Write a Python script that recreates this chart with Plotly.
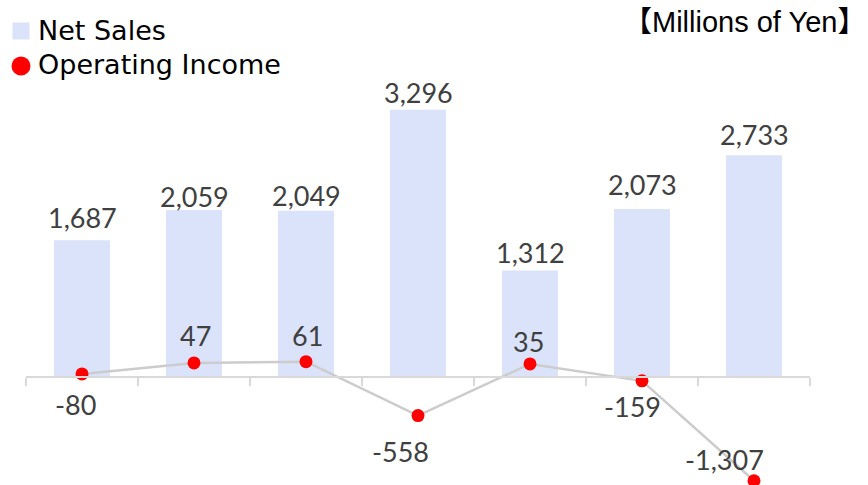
import plotly.graph_objects as go

# Seven consecutive periods (period labels are not shown on the axis)
periods = ["P1", "P2", "P3", "P4", "P5", "P6", "P7"]
net_sales = [1687, 2059, 2049, 3296, 1312, 2073, 2733]
operating_income = [-80, 47, 61, -558, 35, -159, -1307]

# Label placement (pixels): distance of each sales label above its bar,
# and (dx, dy) of each income label from its marker (dy > 0 means below)
sales_label_gap = [23, 14, 15.5, 17.5, 18.5, 24, 21]
income_label_offset = [(-7, 31), (1.5, -27.5), (1, -26.5), (-18, 36),
                       (-1.5, -22), (-10, 26), (-30, -21.5)]

W, H = 868, 485
ML, MR, MT, MB = 26, 58, 0, 0
PW = W - ML - MR
PH = H - MT - MB


def px_x(x):
    return (x - ML) / PW


def px_y(y):
    return 1 - (y - MT) / PH


BAR_COLOR = "#DAE3FA"
LINE_COLOR = "#CCCCCC"
DOT_COLOR = "#FF0000"
AXIS_COLOR = "#D9D9D9"
LABEL_FONT = dict(family="Lato, Open Sans, sans-serif", size=27, color="#404040")

fig = go.Figure()
fig.add_trace(go.Bar(
    x=periods, y=net_sales, width=0.5,
    marker=dict(color=BAR_COLOR, line=dict(width=0)),
    name="Net Sales", yaxis="y",
))
fig.add_trace(go.Scatter(
    x=periods, y=operating_income, yaxis="y2",
    mode="lines+markers", name="Operating Income",
    line=dict(color=LINE_COLOR, width=2.5),
    marker=dict(color=DOT_COLOR, size=13),
    cliponaxis=False,
))

annotations = []
for i, (v, gap) in enumerate(zip(net_sales, sales_label_gap)):
    annotations.append(dict(
        x=i, y=v, xref="x", yref="y", text=f"{v:,}", showarrow=False,
        yanchor="middle", xanchor="center", yshift=gap, font=LABEL_FONT,
    ))
for i, (v, (dx, dy)) in enumerate(zip(operating_income, income_label_offset)):
    annotations.append(dict(
        x=i, y=v, xref="x", yref="y2", text=f"{v:,}", showarrow=False,
        yanchor="middle", xanchor="center", xshift=dx, yshift=-dy,
        font=LABEL_FONT,
    ))

# Legend entries
LEGEND_FONT = dict(family="DejaVu Sans, Noto Sans CJK JP, sans-serif", size=27,
                   color="#000000")
annotations.append(dict(
    x=px_x(36), y=px_y(31), xref="paper", yref="paper", text="Net Sales",
    showarrow=False, xanchor="left", yanchor="middle", font=LEGEND_FONT,
))
annotations.append(dict(
    x=px_x(36), y=px_y(65), xref="paper", yref="paper", text="Operating Income",
    showarrow=False, xanchor="left", yanchor="middle", font=LEGEND_FONT,
))
# Unit note
annotations.append(dict(
    x=px_x(868), y=px_y(22), xref="paper", yref="paper",
    text="【Millions of Yen】", showarrow=False, xanchor="right", yanchor="middle",
    font=dict(family="Liberation Sans, Noto Sans CJK JP, sans-serif", size=29,
              color="#000000"),
))

shapes = [
    dict(type="rect", xref="paper", yref="paper",
         x0=px_x(12.5), x1=px_x(29.5), y0=px_y(39.5), y1=px_y(22.5),
         fillcolor=BAR_COLOR, line=dict(width=0)),
    dict(type="circle", xref="paper", yref="paper",
         x0=px_x(11.5), x1=px_x(30.5), y0=px_y(75.5), y1=px_y(56.5),
         fillcolor=DOT_COLOR, line=dict(width=0)),
]

fig.update_layout(
    width=W, height=H,
    margin=dict(l=ML, r=MR, t=MT, b=MB, pad=0),
    paper_bgcolor="white", plot_bgcolor="white",
    showlegend=False,
    annotations=annotations,
    shapes=shapes,
    xaxis=dict(
        type="category", range=[-0.5, 6.5],
        showline=True, linecolor=AXIS_COLOR, linewidth=2,
        ticks="outside", ticklen=8, tickwidth=2, tickcolor=AXIS_COLOR,
        tickson="boundaries", showticklabels=False, showgrid=False,
        zeroline=False, anchor="free", position=(H - 377) / H,
    ),
    yaxis=dict(range=[-1331.7, 4648.6], visible=False, showgrid=False,
               zeroline=False),
    yaxis2=dict(range=[-1356, 4218], overlaying="y", visible=False,
                showgrid=False, zeroline=False),
)

fig.write_html("out.html")
